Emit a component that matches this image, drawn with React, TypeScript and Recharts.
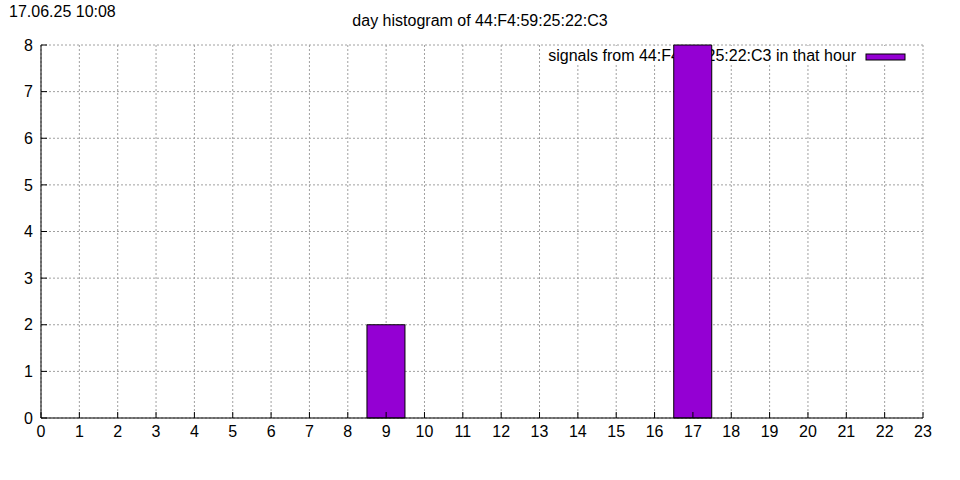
import { Bar, BarChart, CartesianGrid, Customized, XAxis, YAxis } from "recharts";

const hours = [0, 1, 2, 3, 4, 5, 6, 7, 8, 9, 10, 11, 12, 13, 14, 15, 16, 17, 18, 19, 20, 21, 22, 23];
const signalCounts = [0, 0, 0, 0, 0, 0, 0, 0, 0, 2, 0, 0, 0, 0, 0, 0, 0, 8, 0, 0, 0, 0, 0, 0];
const yTicks = [0, 1, 2, 3, 4, 5, 6, 7, 8];

const timestamp = "17.06.25 10:08";
const title = "day histogram of 44:F4:59:25:22:C3";
const seriesName = "signals from 44:F4:59:25:22:C3 in that hour";

const data = hours.map((h, i) => ({ hour: h, count: signalCounts[i] }));

const FONT = "'Liberation Sans', Arial, sans-serif";
const BAR_COLOR = "#9400d3";
const tickStyle = { fill: "#000", fontSize: 16, fontFamily: FONT };

function KeyBox() {
  return (
    <g>
      <rect x={544} y={46} width={370} height={18} fill="#fff" />
      <text x={856} y={61} textAnchor="end" fontSize={16} fontFamily={FONT} fill="#000">
        {seriesName}
      </text>
      <rect x={866} y={54} width={39} height={6} fill={BAR_COLOR} stroke="#000" strokeWidth={1} />
    </g>
  );
}

export default function App() {
  return (
    <div style={{ position: "absolute", left: 0, top: 0, width: 960, height: 480, background: "#fff" }}>
      <div style={{ position: "absolute", left: 9, top: 3, fontFamily: FONT, fontSize: 16 }}>{timestamp}</div>
      <div
        style={{ position: "absolute", left: 0, width: 960, top: 12, textAlign: "center", fontFamily: FONT, fontSize: 16 }}
      >
        {title}
      </div>
      <BarChart
        width={960}
        height={480}
        data={data}
        margin={{ top: 45, right: 37, bottom: 32, left: 11 }}
        barCategoryGap={0}
        barGap={0}
      >
        <CartesianGrid stroke="#a0a0a0" strokeDasharray="2 2" />
        <Customized component={KeyBox} />
        <XAxis
          dataKey="hour"
          type="number"
          domain={[0, 23]}
          ticks={hours}
          interval={0}
          allowDataOverflow
          height={30}
          axisLine={{ stroke: "#000" }}
          tickLine={{ stroke: "#000" }}
          tickSize={-6}
          tickMargin={14}
          tick={tickStyle}
        />
        <XAxis
          xAxisId="top"
          dataKey="hour"
          type="number"
          orientation="top"
          domain={[0, 23]}
          ticks={hours}
          interval={0}
          allowDataOverflow
          height={0}
          axisLine={{ stroke: "#000" }}
          tickLine={{ stroke: "#000" }}
          tickSize={-6}
          tick={false}
        />
        <YAxis
          domain={[0, 8]}
          ticks={yTicks}
          interval={0}
          width={30}
          axisLine={{ stroke: "#000" }}
          tickLine={{ stroke: "#000" }}
          tickSize={-6}
          tickMargin={14}
          tick={tickStyle}
        />
        <YAxis
          yAxisId="right"
          orientation="right"
          domain={[0, 8]}
          ticks={yTicks}
          interval={0}
          width={0}
          axisLine={{ stroke: "#000" }}
          tickLine={{ stroke: "#000" }}
          tickSize={-6}
          tick={false}
        />
        <Bar
          dataKey="count"
          name={seriesName}
          fill={BAR_COLOR}
          stroke="#000"
          strokeWidth={1}
          isAnimationActive={false}
        />
      </BarChart>
    </div>
  );
}
